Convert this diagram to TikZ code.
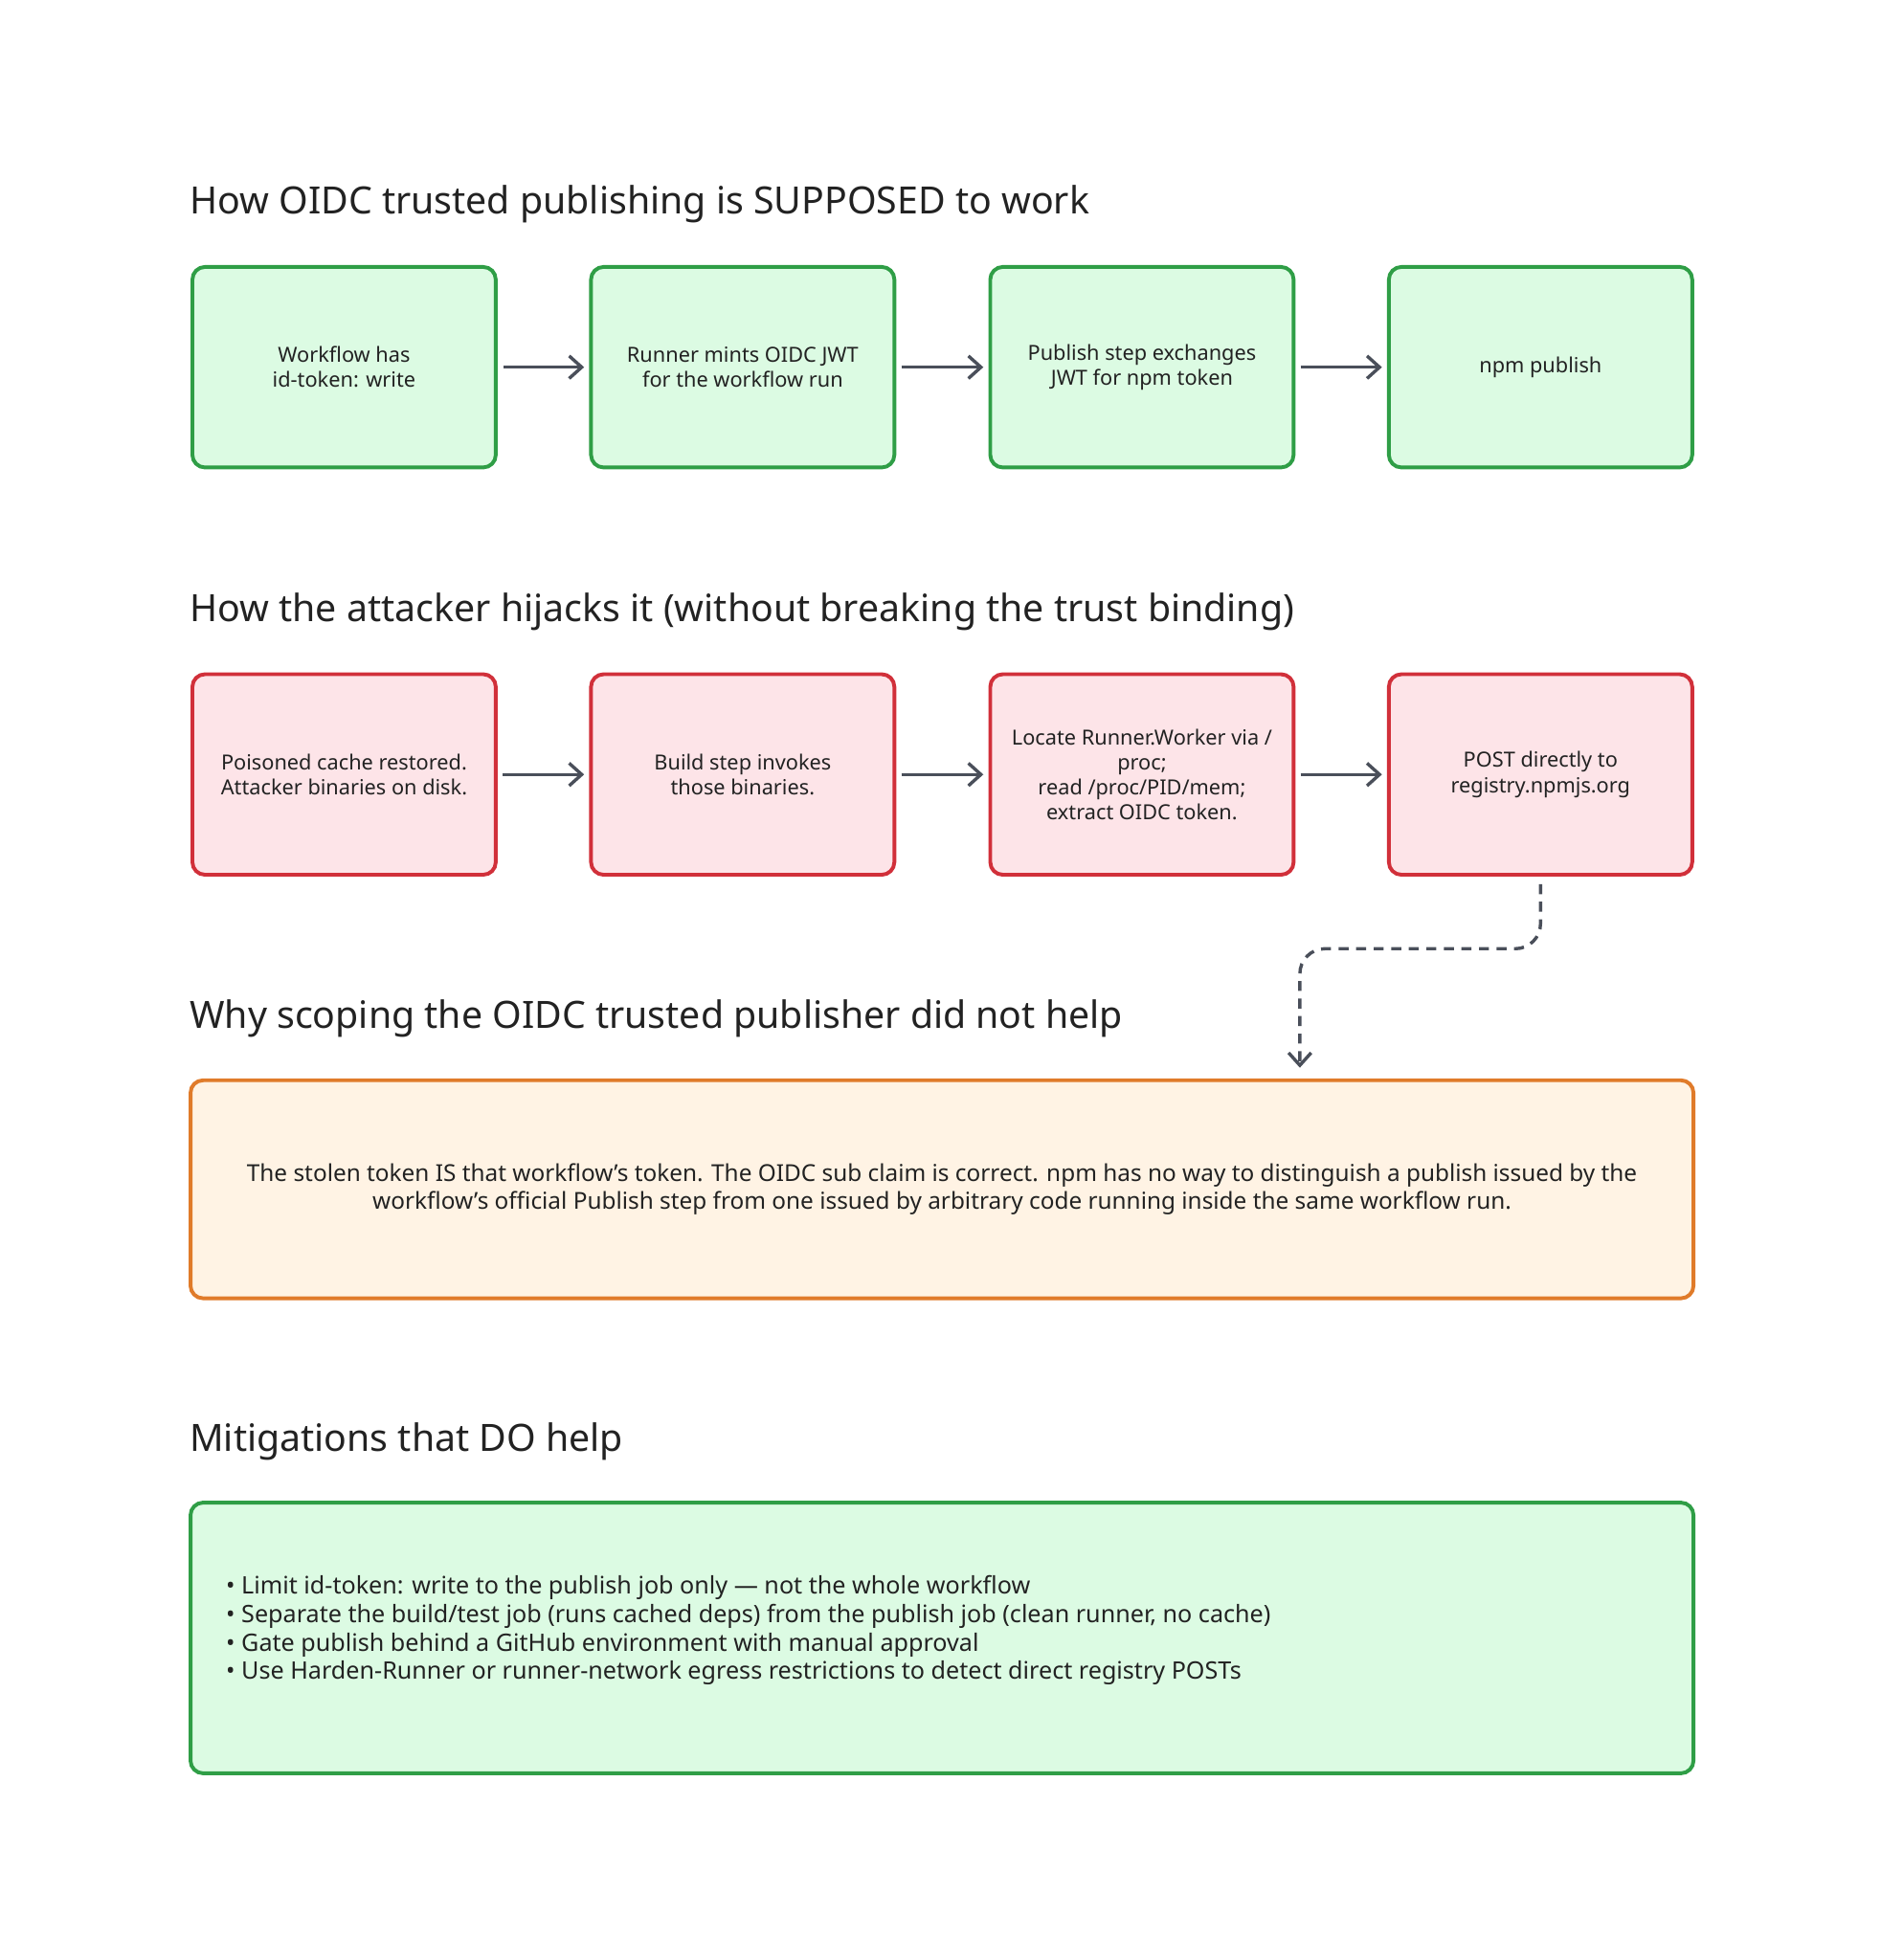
\documentclass[tikz,border=0pt]{standalone}
\usepackage{fontspec}
\setmainfont{Noto Sans}
\usetikzlibrary{arrows.meta}
\definecolor{gb}{HTML}{2F9E46}\definecolor{gf}{HTML}{DCFBE3}
\definecolor{rb}{HTML}{D1303A}\definecolor{rf}{HTML}{FDE4E8}
\definecolor{ob}{HTML}{E07B2A}\definecolor{of}{HTML}{FFF3E4}
\definecolor{ar}{HTML}{4A4F5A}\definecolor{tx}{HTML}{222222}
\begin{document}
\begin{tikzpicture}[x=0.5pt,y=-0.5pt,
 box/.style={draw,line width=1.5pt,rounded corners=5pt,minimum width=121pt,minimum height=80pt,align=center,font=\fontsize{8.3}{10}\selectfont,text=tx},
 g/.style={box,draw=gb,fill=gf}, r/.style={box,draw=rb,fill=rf},
 ttl/.style={anchor=west,font=\fontsize{15}{18}\selectfont,text=tx,inner sep=0},
 arr/.style={draw=ar,line width=1.3pt,-{Straight Barb[length=5pt,width=9pt]}}]
\useasboundingbox (0,0) rectangle (1500,1564);
\node[ttl] (t1) at (151,163) {How OIDC trusted publishing is SUPPOSED to work};
\node[g] (a1) at (274.5,293) {Workflow has\\id-token: write};
\node[g] (a2) at (592.5,293) {Runner mints OIDC JWT\\for the workflow run};
\node[g] (a3) at (911,293) {Publish step exchanges\\JWT for npm token};
\node[g] (a4) at (1229,293) {npm publish};
\draw[arr] (a1.east)++(5,0) -- ([xshift=-2pt]a2.west);
\draw[arr] ([xshift=2pt]a2.east) -- ([xshift=-2pt]a3.west);
\draw[arr] ([xshift=2pt]a3.east) -- ([xshift=-2pt]a4.west);
\node[ttl] (t2) at (151,488) {How the attacker hijacks it (without breaking the trust binding)};
\node[r] (b1) at (274.5,618) {Poisoned cache restored.\\Attacker binaries on disk.};
\node[r] (b2) at (592.5,618) {Build step invokes\\those binaries.};
\node[r] (b3) at (911,618) {Locate Runner.Worker via /\\proc;\\read /proc/PID/mem;\\extract OIDC token.};
\node[r] (b4) at (1229,618) {POST directly to\\registry.npmjs.org};
\draw[arr] ([xshift=2pt]b1.east) -- ([xshift=-2pt]b2.west);
\draw[arr] ([xshift=2pt]b2.east) -- ([xshift=-2pt]b3.west);
\draw[arr] ([xshift=2pt]b3.east) -- ([xshift=-2pt]b4.west);
\node[ttl] (t3) at (151,813) {Why scoping the OIDC trusted publisher did not help};
\node[box,draw=ob,fill=of,minimum width=599.5pt,minimum height=87pt,font=\fontsize{9.3}{11.2}\selectfont] (c) at (751.5,949) {The stolen token IS that workflow's token. The OIDC sub claim is correct. npm has no way to distinguish a publish issued by the\\workflow's official Publish step from one issued by arbitrary code running inside the same workflow run.};
\coordinate (ce) at (1037,852);
\draw[arr,dashed,dash pattern=on 4pt off 3pt,rounded corners=10pt] ([yshift=-3pt]b4.south) -- (1229,757) -- (1037,757) -- (ce);
\node[ttl] (t4) at (151,1150) {Mitigations that DO help};
\node[box,draw=gb,fill=gf,minimum width=599.5pt,minimum height=108pt] (m) at (751.5,1307) {};
\node[anchor=west,align=left,font=\fontsize{9.6}{11.3}\selectfont,text=tx,inner sep=0] (ml) at (180,1301) {• Limit id-token: write to the publish job only — not the whole workflow\\• Separate the build/test job (runs cached deps) from the publish job (clean runner, no cache)\\• Gate publish behind a GitHub environment with manual approval\\• Use Harden-Runner or runner-network egress restrictions to detect direct registry POSTs};
\end{tikzpicture}
\end{document}
